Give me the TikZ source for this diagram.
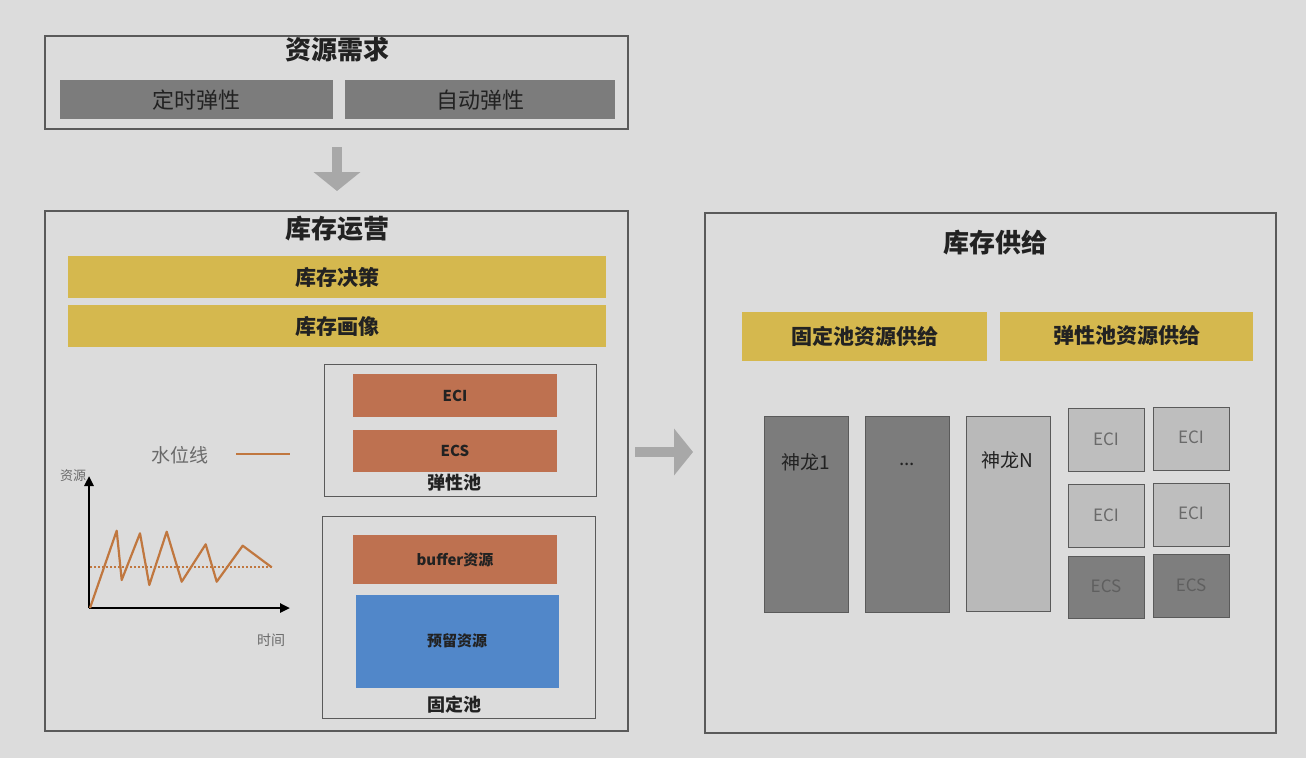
\documentclass[tikz,border=0pt]{standalone}
\usepackage{fontspec}
\setmainfont{Noto Sans CJK SC}
\usetikzlibrary{arrows.meta}
\definecolor{bg}{HTML}{DCDCDC}
\definecolor{frame}{HTML}{5A5A5A}
\definecolor{darkfill}{HTML}{7C7C7C}
\definecolor{goldfill}{HTML}{D5B84E}
\definecolor{rustfill}{HTML}{BE7150}
\definecolor{bluefill}{HTML}{5187C9}
\definecolor{lightfill}{HTML}{B9B9B9}
\definecolor{ecifill}{HTML}{BEBEBE}
\definecolor{ecsfill}{HTML}{7E7E7E}
\definecolor{arrowgray}{HTML}{A8A8A8}
\definecolor{orangeline}{HTML}{C0773F}
\definecolor{txt}{HTML}{222222}
\definecolor{grytxt}{HTML}{6A6A6A}
\tikzset{
  panel/.style={draw=frame, line width=1.1pt},
  bar/.style={draw=none, anchor=north west, inner sep=0pt},
  title/.style={font=\fontsize{26}{28}\selectfont\bfseries, text=txt},
  subtitle/.style={font=\fontsize{21}{24}\selectfont\bfseries, text=txt},
  blockarrow/.style={draw=arrowgray, line width=10pt, -{Triangle[width=46pt,length=19pt]}},
}
\begin{document}
\begin{tikzpicture}[x=1pt,y=-1pt]
\fill[bg] (0,0) rectangle (1306,758);
\useasboundingbox (0,0) rectangle (1306,758);

% top panel
\draw[panel] (45,36) rectangle (628,129);
\node[title] (t1) at (337,50) {资源需求};
\fill[darkfill] (60,80) rectangle (333,119);
\node[font=\fontsize{22}{24}\selectfont, text=txt] (ds) at (196.5,100) {定时弹性};
\fill[darkfill] (345,80) rectangle (615,119);
\node[font=\fontsize{22}{24}\selectfont, text=txt] (as) at (480,100) {自动弹性};

% down arrow
\coordinate (d1) at (337,147);
\coordinate (d2) at (337,191);
\draw[blockarrow] (d1) -- (d2);

% middle panel
\draw[panel] (45,211) rectangle (628,731);
\node[title] (t2) at (337,229) {库存运营};
\fill[goldfill] (68,256) rectangle (606,298);
\node[subtitle] (jc) at (337,277) {库存决策};
\fill[goldfill] (68,305) rectangle (606,347);
\node[subtitle] (hx) at (337,326) {库存画像};

% elastic pool
\draw[panel, line width=0.9pt] (324,364) rectangle (596,496);
\fill[rustfill] (353,374) rectangle (557,417);
\node[font=\fontsize{15}{17}\selectfont\bfseries, text=txt] (eci) at (455,396) {ECI};
\fill[rustfill] (353,430) rectangle (557,472);
\node[font=\fontsize{15}{17}\selectfont\bfseries, text=txt] (ecs) at (455,451) {ECS};
\node[font=\fontsize{18}{20}\selectfont\bfseries, text=txt] (tx) at (454,483) {弹性池};

% fixed pool
\draw[panel, line width=0.9pt] (322,516) rectangle (595,718);
\fill[rustfill] (353,535) rectangle (557,584);
\node[font=\fontsize{15}{17}\selectfont\bfseries, text=txt] (buf) at (455,560) {buffer资源};
\fill[bluefill] (356,595) rectangle (559,688);
\node[font=\fontsize{15}{17}\selectfont\bfseries, text=txt] (yl) at (457,641) {预留资源};
\node[font=\fontsize{18}{20}\selectfont\bfseries, text=txt] (gd) at (454,705) {固定池};

% legend
\node[font=\fontsize{19}{21}\selectfont, text=grytxt] (sw) at (180,455) {水位线};
\coordinate (l1) at (236,454);
\coordinate (l2) at (290,454);
\draw[orangeline, line width=2.2pt] (l1) -- (l2);

% chart
\coordinate (o) at (89,608);
\coordinate (ya) at (89,476);
\coordinate (xa) at (290,608);
\draw[black, line width=2.4pt, -{Triangle[width=9pt,length=10pt]}] (o) -- (ya);
\draw[black, line width=2.4pt, -{Triangle[width=9pt,length=10pt]}] (o) -- (xa);
\node[font=\fontsize{13}{15}\selectfont, text=grytxt] (zy) at (73,476) {资源};
\node[font=\fontsize{14}{16}\selectfont, text=grytxt] (sj) at (271,640) {时间};
\draw[orangeline, line width=1.4pt, dash pattern=on 2pt off 2pt] (90,567) -- (272,567);
\draw[orangeline, line width=2.2pt, line join=round]
  (90,608) -- (116.7,530.7) -- (121.7,580) -- (140,533.3) -- (149.3,585) -- (166.7,531.7)
  -- (181.7,581.7) -- (205.7,544.3) -- (216.7,581.7) -- (242.7,545.7) -- (271.7,567.3);

% right arrow
\coordinate (r1) at (635,452);
\coordinate (r2) at (693,452);
\draw[blockarrow] (r1) -- (r2);

% right panel
\draw[panel] (705,213) rectangle (1276,733);
\node[title] (t3) at (995,243) {库存供给};
\fill[goldfill] (742,312) rectangle (987,361);
\node[subtitle] (gdp) at (864.5,336) {固定池资源供给};
\fill[goldfill] (1000,312) rectangle (1253,361);
\node[subtitle] (txp) at (1126.5,336) {弹性池资源供给};

\draw[draw=frame, fill=darkfill, line width=0.8pt] (764,416) rectangle (848,612);
\node[font=\fontsize{19}{21}\selectfont, text=txt] (sl1) at (806,462) {神龙1};
\draw[draw=frame, fill=darkfill, line width=0.8pt] (865,416) rectangle (949,612);
\node[font=\fontsize{19}{21}\selectfont, text=txt] (sld) at (907,464) {...};
\draw[draw=frame, fill=lightfill, line width=0.8pt] (966,416) rectangle (1050,611);
\node[font=\fontsize{19}{21}\selectfont, text=txt] (sln) at (1007,460) {神龙N};

\tikzset{small/.style={draw=frame, line width=0.8pt}}
\draw[small, fill=ecifill] (1068,408) rectangle (1144,471);
\node[font=\fontsize{17}{19}\selectfont, text=grytxt] (e1) at (1106,439) {ECI};
\draw[small, fill=ecifill] (1153,407) rectangle (1229,470);
\node[font=\fontsize{17}{19}\selectfont, text=grytxt] (e2) at (1191,437) {ECI};
\draw[small, fill=ecifill] (1068,484) rectangle (1144,547);
\node[font=\fontsize{17}{19}\selectfont, text=grytxt] (e3) at (1106,515) {ECI};
\draw[small, fill=ecifill] (1153,483) rectangle (1229,546);
\node[font=\fontsize{17}{19}\selectfont, text=grytxt] (e4) at (1191,513) {ECI};
\draw[small, fill=ecsfill] (1068,556) rectangle (1144,618);
\node[font=\fontsize{17}{19}\selectfont, text=grytxt!90!black] (s1) at (1106,586) {ECS};
\draw[small, fill=ecsfill] (1153,554) rectangle (1229,617);
\node[font=\fontsize{17}{19}\selectfont, text=grytxt!90!black] (s2) at (1191,585) {ECS};
\end{tikzpicture}
\end{document}
